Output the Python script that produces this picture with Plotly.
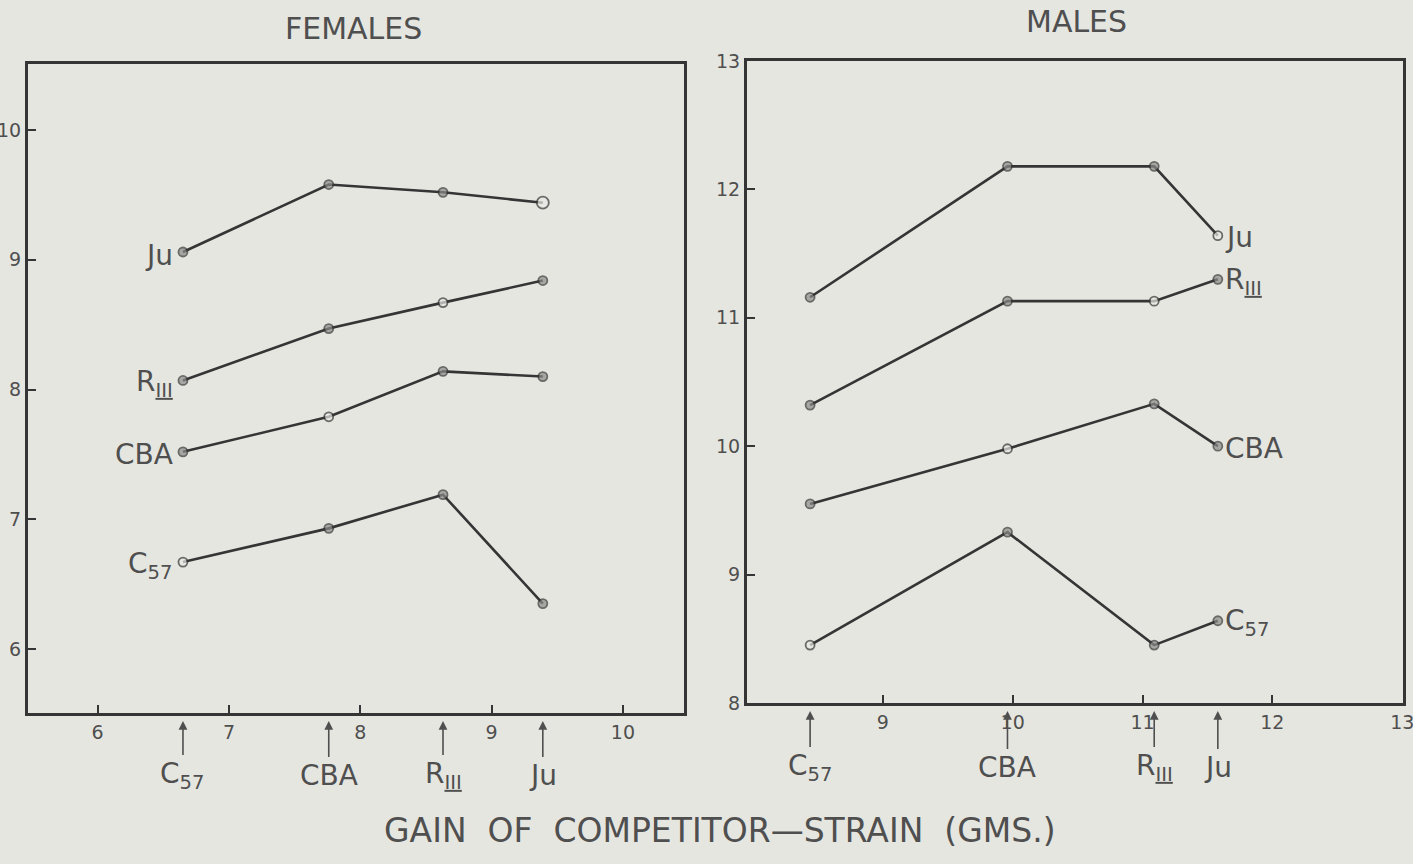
import plotly.graph_objects as go

# ---------------- data ----------------
strains = ["C57", "CBA", "RIII", "Ju"]
strain_labels = ["C<sub>57</sub>", "CBA", "R<sub><u>III</u></sub>", "Ju"]

# gain of competitor strain (gms) - x positions
female_gain = [6.65, 7.76, 8.63, 9.39]
male_gain = [8.44, 9.96, 11.09, 11.58]

# gain of each strain (y) vs competitor
female_ju = [9.06, 9.58, 9.52, 9.44]
female_r3 = [8.07, 8.47, 8.67, 8.84]
female_cba = [7.52, 7.79, 8.14, 8.10]
female_c57 = [6.67, 6.93, 7.19, 6.35]

male_ju = [11.16, 12.18, 12.18, 11.64]
male_r3 = [10.32, 11.13, 11.13, 11.30]
male_cba = [9.55, 9.98, 10.33, 10.00]
male_c57 = [8.45, 9.33, 8.45, 8.64]

female_ticks_x = [6, 7, 8, 9, 10]
female_ticks_y = [6, 7, 8, 9, 10]
male_ticks_x = [9, 10, 11, 12, 13]
male_ticks_y = [8, 9, 10, 11, 12, 13]

# ---------------- style ----------------
BG = "#e6e6e1"
INK = "#353535"
TXT = "#4f4f4f"
FONT = "DejaVu Sans"
FILL = "#8c8c8a"
OPEN = "#e8e8e4"
LABEL_SIZE = 28

# index of the open (self-competitor) point in each series
open_idx = {"Ju": 3, "RIII": 2, "CBA": 1, "C57": 0}

fig = go.Figure()

def add_series(xs, ys, name, xaxis, yaxis, big_open=False):
    oi = open_idx[name]
    colors = [OPEN if i == oi else FILL for i in range(len(xs))]
    sizes = [(12 if big_open else 9) if i == oi else 9 for i in range(len(xs))]
    fig.add_trace(go.Scatter(
        x=xs, y=ys, mode="lines+markers", name=name,
        xaxis=xaxis, yaxis=yaxis, showlegend=False,
        line=dict(color=INK, width=2.6),
        marker=dict(size=sizes, color=colors, line=dict(color=INK, width=1.8)),
        hoverinfo="x+y+name",
    ))

female = {"Ju": female_ju, "RIII": female_r3, "CBA": female_cba, "C57": female_c57}
male = {"Ju": male_ju, "RIII": male_r3, "CBA": male_cba, "C57": male_c57}

for name, ys in female.items():
    add_series(female_gain, ys, name, "x", "y", big_open=(name == "Ju"))
for name, ys in male.items():
    add_series(male_gain, ys, name, "x2", "y2")

annotations = []
lab = dict(zip(strains, strain_labels))

# series labels: female on the left of first point, male right of last point
for name, ys in female.items():
    annotations.append(dict(x=female_gain[0], y=ys[0], xref="x", yref="y",
                            text=lab[name], showarrow=False, xanchor="right",
                            xshift=-8, yshift=-3,
                            font=dict(family=FONT, size=LABEL_SIZE, color=TXT)))
for name, ys in male.items():
    annotations.append(dict(x=male_gain[-1], y=ys[-1], xref="x2", yref="y2",
                            text=lab[name], showarrow=False, xanchor="left",
                            xshift=5, yshift=-2,
                            font=dict(family=FONT, size=LABEL_SIZE, color=TXT)))

# arrows under the x axes marking the competitor gains
for s, gx in zip(strains, female_gain):
    annotations.append(dict(x=gx, y=0, xref="x", yref="y domain",
                            text=lab[s], showarrow=True, ax=0, ay=62,
                            arrowhead=2, arrowsize=1.1, arrowwidth=1.6,
                            arrowcolor=TXT, standoff=8,
                            font=dict(family=FONT, size=LABEL_SIZE, color=TXT)))
for s, gx in zip(strains, male_gain):
    annotations.append(dict(x=gx, y=0, xref="x2", yref="y2 domain",
                            text=lab[s], showarrow=True, ax=0, ay=64,
                            arrowhead=2, arrowsize=1.1, arrowwidth=1.6,
                            arrowcolor=TXT, standoff=8,
                            font=dict(family=FONT, size=LABEL_SIZE, color=TXT)))

annotations += [
    dict(x=353/1413, y=1-28/864, xref="paper", yref="paper", text="FEMALES",
         xanchor="center", yanchor="middle",
         showarrow=False, font=dict(family=FONT, size=30, color=TXT)),
    dict(x=1076/1413, y=1-22/864, xref="paper", yref="paper", text="MALES",
         xanchor="center", yanchor="middle",
         showarrow=False, font=dict(family=FONT, size=30, color=TXT)),
    dict(x=720/1413, y=1-830/864, xref="paper", yref="paper",
         text="GAIN  OF  COMPETITOR—STRAIN  (GMS.)",
         xanchor="center", yanchor="middle",
         showarrow=False, font=dict(family=FONT, size=33, color=TXT)),
]

axis_common = dict(showline=True, linecolor=INK, linewidth=3, mirror=True,
                   ticks="inside", ticklen=8, tickwidth=2, tickcolor=INK,
                   showgrid=False, zeroline=False, automargin=False,
                   ticklabeloverflow="allow",
                   tickfont=dict(family=FONT, size=19, color=TXT))

fig.update_layout(
    width=1413, height=864,
    paper_bgcolor=BG, plot_bgcolor=BG,
    margin=dict(l=0, r=0, t=0, b=0, pad=0),
    hovermode="closest",
    xaxis=dict(domain=[28/1413, 684/1413], range=[5.47, 10.465],
               tickvals=female_ticks_x, anchor="y", **axis_common),
    yaxis=dict(domain=[1-713/864, 1-64/864], range=[5.507, 10.509],
               tickvals=female_ticks_y, anchor="x", **axis_common),
    xaxis2=dict(domain=[747/1413, 1403/1413], range=[7.954, 13.006],
                tickvals=male_ticks_x, anchor="y2", **axis_common),
    yaxis2=dict(domain=[1-703/864, 1-61/864], range=[7.999, 13.001],
                tickvals=male_ticks_y, anchor="x2", **axis_common),
    annotations=annotations,
)

fig.write_html(
    "out.html",
    config={"displayModeBar": False},
    post_script="document.body.style.margin='0px';document.body.style.overflow='hidden';",
)
